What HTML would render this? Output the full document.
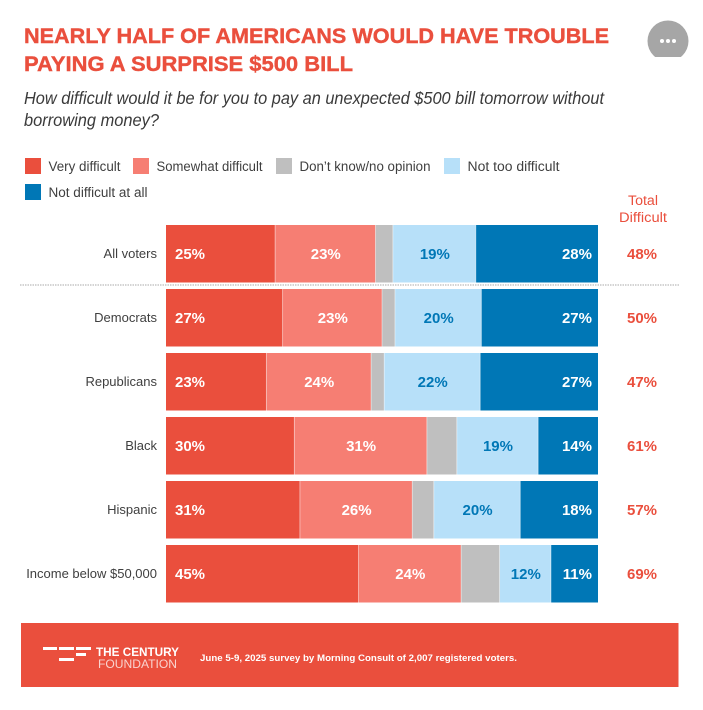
<!DOCTYPE html>
<html lang="en">
<head>
<meta charset="utf-8">
<title>Nearly half of Americans would have trouble paying a surprise $500 bill</title>
<style>
html,body{margin:0;padding:0;background:#fff;}
svg{display:block;font-family:"Liberation Sans",sans-serif;}
</style>
</head>
<body>
<svg id="chart" width="703" height="710" viewBox="0 0 703 710" xmlns="http://www.w3.org/2000/svg">
  <defs>
    <clipPath id="menu-clip"><rect x="640" y="10" width="60" height="47"/></clipPath>
  </defs>
  <rect x="0" y="0" width="703" height="710" fill="#ffffff"/>

  <text x="24" y="43" font-size="21.5" font-weight="700" fill="#ea4f3d" stroke="#ea4f3d" stroke-width="0.4" textLength="585" lengthAdjust="spacingAndGlyphs">NEARLY HALF OF AMERICANS WOULD HAVE TROUBLE</text>
  <text x="24" y="71" font-size="21.5" font-weight="700" fill="#ea4f3d" stroke="#ea4f3d" stroke-width="0.4" textLength="329" lengthAdjust="spacingAndGlyphs">PAYING A SURPRISE $500 BILL</text>
  <text x="24" y="104" font-size="17.5" font-style="italic" fill="#3a3a3a" textLength="580" lengthAdjust="spacingAndGlyphs">How difficult would it be for you to pay an unexpected $500 bill tomorrow without</text>
  <text x="24" y="126" font-size="17.5" font-style="italic" fill="#3a3a3a" textLength="135" lengthAdjust="spacingAndGlyphs">borrowing money?</text>

  <g>
    <circle cx="668" cy="41" r="20.5" fill="#a6a6a6" clip-path="url(#menu-clip)"/>
    <circle cx="662" cy="41" r="2" fill="#ffffff"/>
    <circle cx="668" cy="41" r="2" fill="#ffffff"/>
    <circle cx="674" cy="41" r="2" fill="#ffffff"/>
  </g>

  <g id="legend"></g>

  <text x="643" y="205" font-size="13.5" fill="#ea4f3d" text-anchor="middle" textLength="30" lengthAdjust="spacingAndGlyphs">Total</text>
  <text x="643" y="222" font-size="13.5" fill="#ea4f3d" text-anchor="middle" textLength="48" lengthAdjust="spacingAndGlyphs">Difficult</text>

  <g id="bars"></g>

  <line x1="20" y1="285" x2="680" y2="285" stroke="#d4d4d4" stroke-width="2" stroke-dasharray="1.5 1"/>

  <g>
    <rect x="21" y="623" width="657.5" height="64" fill="#ea4f3d"/>
    <g fill="#ffffff">
      <rect x="43" y="647" width="14" height="3"/>
      <rect x="59" y="647" width="15" height="3"/>
      <rect x="59" y="658" width="15" height="3"/>
      <rect x="76" y="647" width="15" height="3"/>
      <rect x="76" y="653" width="10" height="3"/>
    </g>
    <text x="96" y="656" font-size="12" font-weight="700" fill="#ffffff" textLength="83" lengthAdjust="spacingAndGlyphs">THE CENTURY</text>
    <text x="98" y="668" font-size="12" fill="#f9d3ce" textLength="79" lengthAdjust="spacingAndGlyphs">FOUNDATION</text>
    <text x="200" y="661" font-size="9.5" font-weight="700" fill="#ffffff" textLength="317" lengthAdjust="spacingAndGlyphs">June 5-9, 2025 survey by Morning Consult of 2,007 registered voters.</text>
  </g>
</svg>
<script>
var categories = ["All voters", "Democrats", "Republicans", "Black", "Hispanic", "Income below $50,000"];
var seriesNames = ["Very difficult", "Somewhat difficult", "Don\u2019t know/no opinion", "Not too difficult", "Not difficult at all"];
var veryDifficult = [25, 27, 23, 30, 31, 45];
var somewhatDifficult = [23, 23, 24, 31, 26, 24];
var dontKnow = [4, 3, 3, 7, 5, 9];
var notTooDifficult = [19, 20, 22, 19, 20, 12];
var notDifficultAtAll = [28, 27, 27, 14, 18, 11];

var series = [veryDifficult, somewhatDifficult, dontKnow, notTooDifficult, notDifficultAtAll];
var colors = ["#ea4f3d", "#f67e73", "#bfbfbf", "#b7e0f9", "#0077b6"];
var labelColors = ["#ffffff", "#ffffff", null, "#0077b6", "#ffffff"];
var seriesSlugs = ["very-difficult", "somewhat-difficult", "dont-know", "not-too-difficult", "not-difficult-at-all"];
var SVGNS = "http://www.w3.org/2000/svg";

var plotLeft = 166, plotWidth = 432, rowTop = 225, rowStep = 64, rowHeight = 57.5;

function yScale(i) { return rowTop + i * rowStep; }
function xScale(v, total) { return plotLeft + v / total * plotWidth; }
function slug(s) { return s.toLowerCase().replace(/[^a-z0-9]+/g, "-").replace(/^-|-$/g, ""); }

var barsGroup = document.getElementById("bars");
categories.forEach(function (cat, i) {
  var rowSlug = slug(cat);
  var y = yScale(i);
  var total = 0;
  series.forEach(function (s) { total += s[i]; });

  var rowLabel = document.createElementNS(SVGNS, "text");
  
  
  rowLabel.setAttribute("x", 157);
  rowLabel.setAttribute("y", y + 33);
  rowLabel.setAttribute("text-anchor", "end");
  rowLabel.setAttribute("font-size", "13");
  rowLabel.setAttribute("fill", "#3f3f3f");
  rowLabel.textContent = cat;
  barsGroup.appendChild(rowLabel);

  var cum = 0;
  series.forEach(function (s, k) {
    var x0 = xScale(cum, total);
    var x1 = xScale(cum + s[i], total);
    cum += s[i];

    var seg = document.createElementNS(SVGNS, "rect");
    
    
    seg.setAttribute("x", x0);
    seg.setAttribute("y", y);
    seg.setAttribute("width", x1 - x0);
    seg.setAttribute("height", rowHeight);
    seg.setAttribute("fill", colors[k]);
    barsGroup.appendChild(seg);

    if (k > 0) {
      var divider = document.createElementNS(SVGNS, "rect");
      
      
      divider.setAttribute("x", x0 - 0.4);
      divider.setAttribute("y", y);
      divider.setAttribute("width", 0.8);
      divider.setAttribute("height", rowHeight);
      divider.setAttribute("fill", "#ffffff");
      divider.setAttribute("fill-opacity", "0.55");
      barsGroup.appendChild(divider);
    }

    if (labelColors[k]) {
      var lab = document.createElementNS(SVGNS, "text");
      
      
      var lx, anchor;
      if (k === 0) { lx = plotLeft + 9; anchor = "start"; }
      else if (k === 4) { lx = plotLeft + plotWidth - 6; anchor = "end"; }
      else { lx = (x0 + x1) / 2 + 0.5; anchor = "middle"; }
      lab.setAttribute("x", lx);
      lab.setAttribute("y", y + 34);
      lab.setAttribute("text-anchor", anchor);
      lab.setAttribute("font-size", "15");
      lab.setAttribute("font-weight", "700");
      lab.setAttribute("fill", labelColors[k]);
      lab.textContent = s[i] + "%";
      barsGroup.appendChild(lab);
    }
  });

  var totalLabel = document.createElementNS(SVGNS, "text");
  
  
  totalLabel.setAttribute("x", 642);
  totalLabel.setAttribute("y", y + 34);
  totalLabel.setAttribute("text-anchor", "middle");
  totalLabel.setAttribute("font-size", "15");
  totalLabel.setAttribute("font-weight", "700");
  totalLabel.setAttribute("fill", "#ea4f3d");
  totalLabel.textContent = (veryDifficult[i] + somewhatDifficult[i]) + "%";
  barsGroup.appendChild(totalLabel);
});

var legendGroup = document.getElementById("legend");
var legendX = [25, 133, 276, 444, 25];
var legendY = [158, 158, 158, 158, 184];
var legendTextWidth = [72, 106, 131, 92, 99];
seriesNames.forEach(function (name, k) {
  var swatch = document.createElementNS(SVGNS, "rect");
  
  
  swatch.setAttribute("x", legendX[k]);
  swatch.setAttribute("y", legendY[k]);
  swatch.setAttribute("width", 16);
  swatch.setAttribute("height", 16);
  swatch.setAttribute("fill", colors[k]);
  legendGroup.appendChild(swatch);

  var t = document.createElementNS(SVGNS, "text");
  
  
  t.setAttribute("x", legendX[k] + 23.5);
  t.setAttribute("y", legendY[k] + 13);
  t.setAttribute("font-size", "13.5");
  t.setAttribute("fill", "#3f3f3f");
  t.setAttribute("textLength", legendTextWidth[k]);
  t.setAttribute("lengthAdjust", "spacingAndGlyphs");
  t.textContent = name;
  legendGroup.appendChild(t);
});
</script>
</body>
</html>
